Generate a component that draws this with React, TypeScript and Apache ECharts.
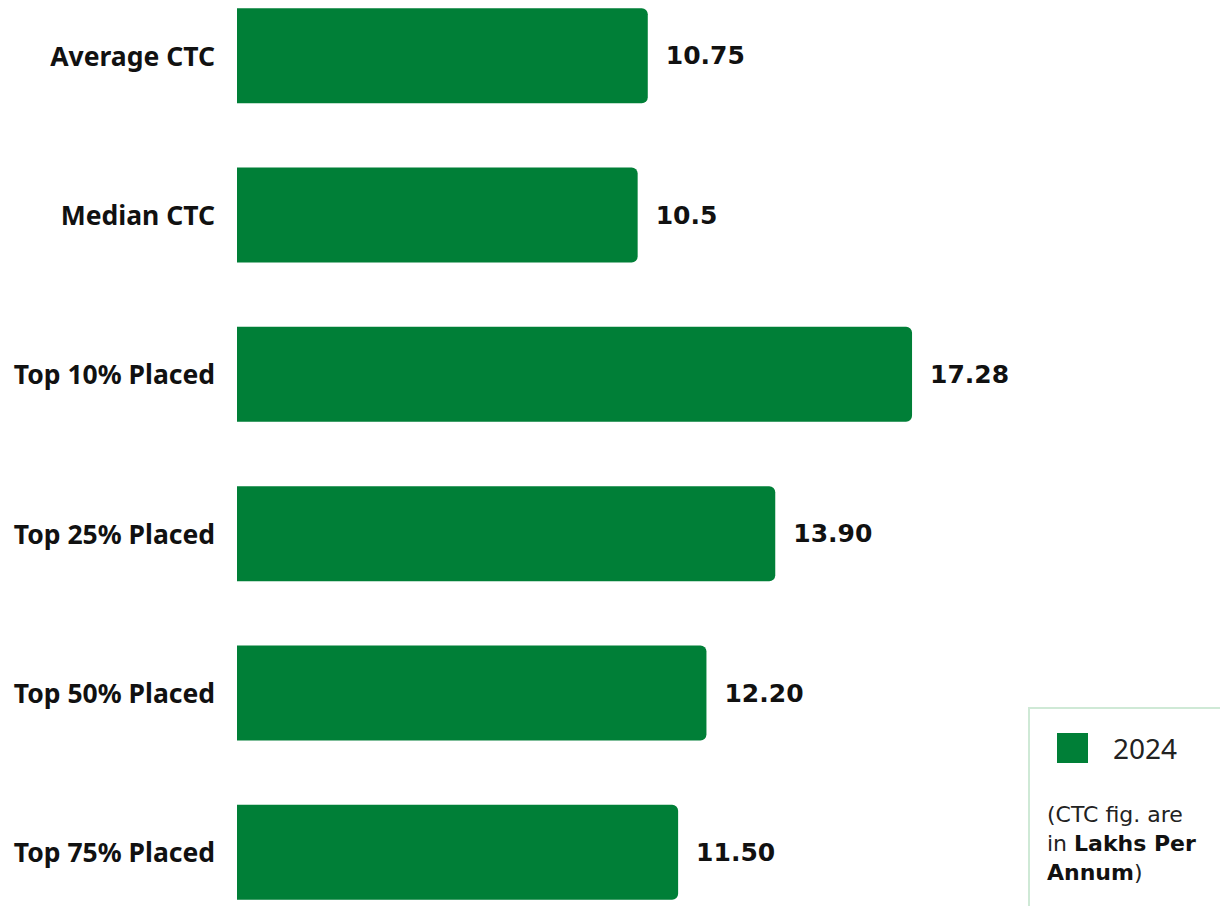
import React, { useEffect, useRef } from "react";
import * as echarts from "echarts";

const categories = [
  "Average CTC",
  "Median CTC",
  "Top 10% Placed",
  "Top 25% Placed",
  "Top 50% Placed",
  "Top 75% Placed",
];
const values = [10.75, 10.5, 17.28, 13.9, 12.2, 11.5];
const valueLabels = ["10.75", "10.5", "17.28", "13.90", "12.20", "11.50"];
const seriesName = "2024";

const SHIFT = 24;

export default function App() {
  const ref = useRef<HTMLDivElement>(null);
  useEffect(() => {
    if (!ref.current) return;
    const chart = echarts.init(ref.current, undefined, { renderer: "svg" });
    chart.setOption({
      animation: false,
      grid: { left: 237, top: 0, height: 956, right: 36, containLabel: false },
      xAxis: {
        type: "value",
        min: 0.6,
        max: 24,
        show: false,
      },
      yAxis: {
        type: "category",
        data: categories,
        inverse: true,
        axisLine: { show: false },
        axisTick: { show: false },
        splitLine: { show: false },
        axisLabel: {
          margin: 22,
          fontFamily: "Noto Sans",
          fontWeight: "bold",
          fontSize: 26.5,
          color: "#111",
        },
      },
      legend: {
        data: [seriesName],
        left: 1057,
        top: 733 + SHIFT,
        padding: 0,
        icon: "rect",
        itemWidth: 31,
        itemHeight: 30,
        selectedMode: false,
        textStyle: {
          fontFamily: "Noto Sans",
          fontSize: 28,
          color: "#222",
          padding: [0, 0, 0, 20],
        },
      },
      graphic: [
        {
          type: "rect",
          shape: { x: 1029, y: 708 + SHIFT, width: 400, height: 400 },
          style: { fill: "none", stroke: "#cfe9d6", lineWidth: 2 },
          silent: true,
        },
        {
          type: "text",
          left: 1047,
          top: 800 + SHIFT,
          style: {
            text: "(CTC fig. are\nin {b|Lakhs Per}\n{b|Annum})",
            fontFamily: "DejaVu Sans",
            fontSize: 22,
            lineHeight: 29,
            fill: "#222",
            rich: {
              b: {
                fontFamily: "DejaVu Sans",
                fontSize: 22,
                fontWeight: "bold",
                lineHeight: 29,
                fill: "#111",
              },
            },
          },
        },
      ],
      series: [
        {
          name: seriesName,
          type: "bar",
          data: values,
          barWidth: 95,
          itemStyle: { color: "#007f37", borderRadius: [0, 6, 6, 0] },
          label: {
            show: true,
            position: "right",
            distance: 18,
            formatter: (p: any) => valueLabels[p.dataIndex],
            fontFamily: "DejaVu Sans",
            fontWeight: "bold",
            fontSize: 25,
            color: "#111",
          },
        },
      ],
    });
    return () => chart.dispose();
  }, []);
  return (
    <div
      ref={ref}
      style={{ position: "absolute", left: 0, top: -SHIFT, width: 1220, height: 906 + SHIFT + 40 }}
    />
  );
}
